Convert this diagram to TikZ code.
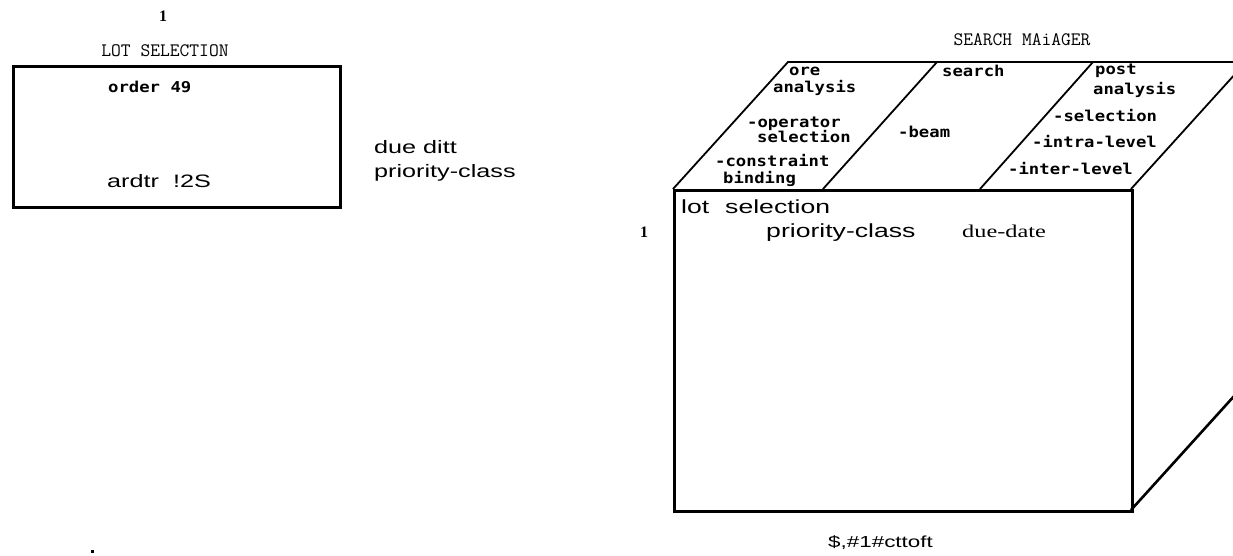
\documentclass[tikz,border=0pt]{standalone}
\usepackage{fontspec}
\newfontfamily\arialw[FakeStretch=1.4]{Liberation Sans}
\newfontfamily\timesw[FakeStretch=1.35]{Liberation Serif}
\newfontfamily\timesb{Liberation Serif}
\newfontfamily\dotm[FakeStretch=1.15]{DejaVu Sans Mono}
\begin{document}
\begin{tikzpicture}[x=1pt,y=-1pt,
  txt/.style={inner sep=0pt,anchor=base west},
  dotlbl/.style={txt,font=\dotm\bfseries\fontsize{15}{15}\selectfont},
  arl/.style={txt,font=\arialw\fontsize{19}{22}\selectfont},
  arls/.style={txt,font=\arialw\fontsize{18}{21}\selectfont},
  monol/.style={inner sep=0pt,font=\ttfamily\fontsize{19}{19}\selectfont},
  numl/.style={inner sep=0pt,font=\timesb\bfseries\fontsize{16}{16}\selectfont},
  thick line/.style={line width=2.6pt,line join=miter},
  thin line/.style={line width=1.8pt,line join=miter}]
\useasboundingbox (0,0) rectangle (1233,556);
\clip (0,0) rectangle (1233,556);
% ---------- left: lot selection
\node[numl] (one1) at (163,16) {1};
\node[monol] (lothead) at (165,51) {LOT SELECTION};
\node[draw,thick line,minimum width=327pt,minimum height=141pt,anchor=north west,inner sep=0pt] (lotbox) at (12,65) {};
\node[dotlbl] (order) at (108,93) {order 49};
\node[arls] (ardtr) at (107,187) {ardtr\hspace{0.4em} !2S};
\node[arls] (duedt) at (374,154) {due ditt};
\node[arls] (prio1) at (374,178) {priority-class};
\fill (90.5,549.5) rectangle (93.5,552.5);
% ---------- right: search manager cube
\node[monol] (smhead) at (1022,40) {SEARCH MAiAGER};
\coordinate (fl) at (673,189);
\coordinate (fr) at (1131,189);
\coordinate (bl) at (788,62);
\coordinate (br) at (1246,62);
\coordinate (d1b) at (823,189);
\coordinate (d1t) at (937,62);
\coordinate (d2b) at (980,189);
\coordinate (d2t) at (1093,62);
\coordinate (brb) at (1131,510);
\coordinate (sidet) at (1245,384);
\draw[thin line] (fl) -- (bl) -- (br) -- (fr);
\draw[thin line] (d1b) -- (d1t);
\draw[thin line] (d2b) -- (d2t);
\draw[thick line] (brb) -- (sidet);
\node[draw,thick line,minimum width=458pt,minimum height=321pt,anchor=north west,inner sep=0pt] (front) at (673,189) {};
% top-face labels
\node[dotlbl] (ore) at (789,76) {ore};
\node[dotlbl] (ana1) at (773,93) {analysis};
\node[dotlbl] (oper) at (747,128) {-operator};
\node[dotlbl] (sel1) at (757,143) {selection};
\node[dotlbl] (cons) at (715,167) {-constraint};
\node[dotlbl] (bind) at (723,183) {binding};
\node[dotlbl] (srch) at (942,77) {search};
\node[dotlbl] (beam) at (898,138) {-beam};
\node[dotlbl] (post) at (1095,75) {post};
\node[dotlbl] (ana2) at (1093,95) {analysis};
\node[dotlbl] (sel2) at (1053,122) {-selection};
\node[dotlbl] (intra) at (1032,148) {-intra-level};
\node[dotlbl] (inter) at (1008,175) {-inter-level};
% front-face labels
\node[arl] (lotsel) at (681,213) {lot\hspace{0.45em} selection};
\node[arl] (prio2) at (766,237) {priority-class};
\node[txt,font=\timesw\fontsize{18}{20}\selectfont] (due) at (962,237) {due-date};
\node[numl] (one2) at (644,232) {1};
\node[txt,font=\arialw\fontsize{16}{18}\selectfont] (foot) at (828,547) {\$,\#1\#cttoft};
\end{tikzpicture}
\end{document}
